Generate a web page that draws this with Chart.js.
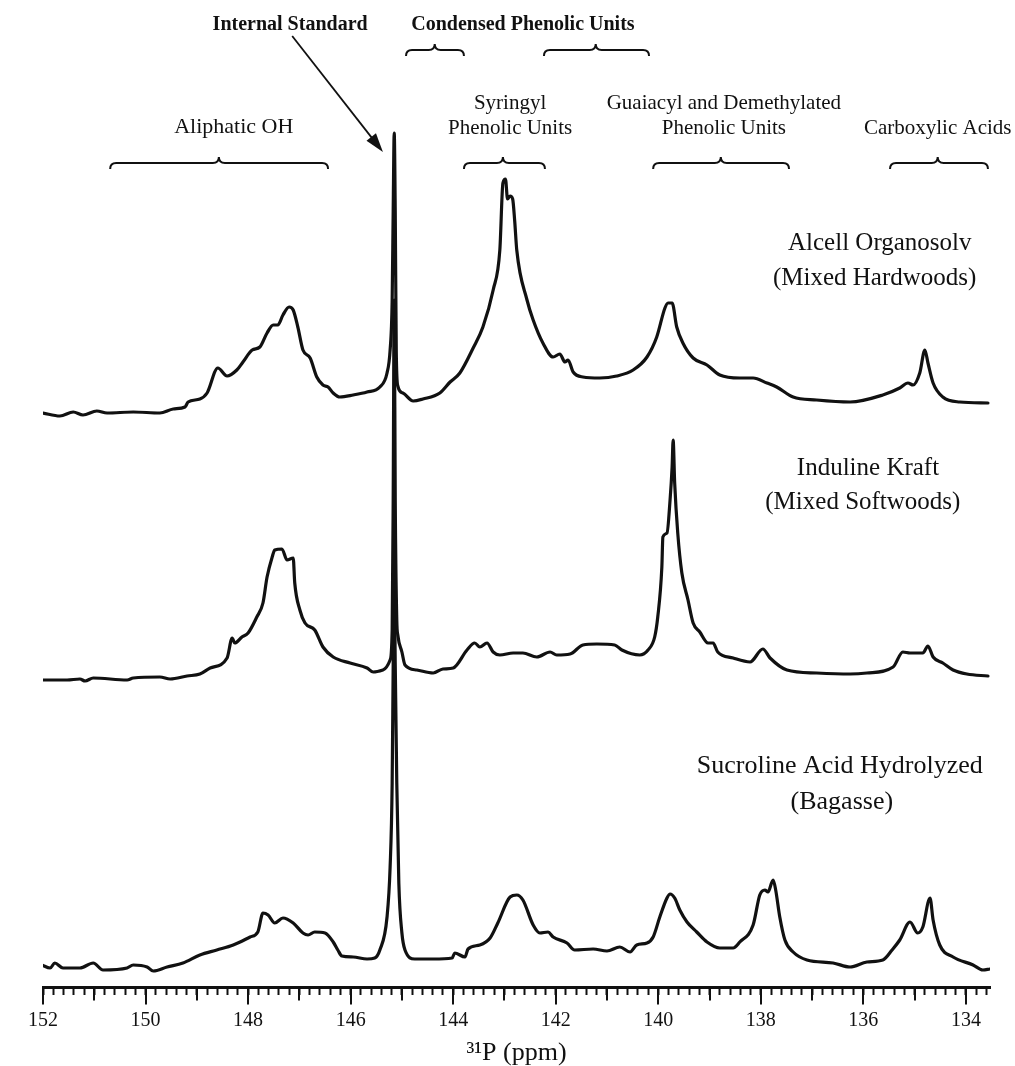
<!DOCTYPE html>
<html>
<head>
<meta charset="utf-8">
<script src="https://cdn.jsdelivr.net/npm/chart.js@4.4.1/dist/chart.umd.min.js"></script>
<style>
  html, body { margin: 0; padding: 0; background: #fff; }
  canvas { display: block; }
</style>
</head>
<body>
<canvas id="nmr" width="1015" height="1066"></canvas>
<script>
// 31P NMR spectra, ppm positions and intensities
const alcellPpm = [152.00, 151.67, 151.41, 151.22, 150.95, 150.75, 150.24, 149.72, 149.46, 149.23, 149.17, 148.94, 148.80, 148.59, 148.41, 148.22, 148.10, 147.92, 147.77, 147.63, 147.51, 147.42, 147.32, 147.20, 147.12, 147.03, 146.93, 146.79, 146.66, 146.54, 146.44, 146.34, 146.21, 145.95, 145.68, 145.43, 145.29, 145.23, 145.19, 145.17, 145.15, 145.13, 145.11, 145.08, 144.98, 144.78, 144.59, 144.26, 144.06, 143.87, 143.61, 143.42, 143.22, 143.09, 143.03, 142.98, 142.94, 142.89, 142.84, 142.80, 142.76, 142.56, 142.44, 142.25, 142.05, 141.92, 141.82, 141.76, 141.66, 141.47, 141.14, 140.81, 140.49, 140.22, 140.03, 139.87, 139.81, 139.73, 139.64, 139.52, 139.32, 139.05, 138.80, 138.41, 138.15, 137.88, 137.69, 137.37, 136.91, 136.26, 135.62, 135.29, 135.13, 135.03, 134.90, 134.80, 134.74, 134.64, 134.45, 134.12, 133.57];
const alcellInt = [-2, -5, -1, -4, 0, -2, -1, -2, 2, 4, 9, 12, 18, 43, 35, 41, 49, 61, 64, 78, 86, 86, 96, 104, 101, 84, 61, 53, 34, 26, 24, 18, 14, 16, 19, 24, 38, 61, 111, 200, 278, 200, 60, 25, 18, 10, 12, 18, 29, 38, 63, 84, 121, 161, 228, 232, 212, 215, 212, 190, 161, 111, 91, 68, 54, 57, 49, 51, 39, 34, 33, 35, 41, 54, 74, 103, 108, 108, 84, 68, 53, 46, 36, 33, 33, 28, 24, 14, 11, 9, 16, 23, 28, 26, 38, 61, 48, 28, 14, 9, 8];

const indulinePpm = [152.02, 151.53, 151.28, 151.18, 151.02, 150.36, 150.24, 149.72, 149.52, 149.19, 148.94, 148.74, 148.41, 148.31, 148.26, 148.12, 148.00, 147.83, 147.71, 147.63, 147.53, 147.48, 147.34, 147.24, 147.12, 147.09, 146.99, 146.89, 146.70, 146.54, 146.34, 146.01, 145.68, 145.56, 145.37, 145.23, 145.19, 145.17, 145.15, 145.13, 145.10, 145.08, 145.00, 144.94, 144.71, 144.39, 144.20, 144.00, 143.73, 143.58, 143.48, 143.34, 143.22, 143.09, 142.83, 142.64, 142.37, 142.11, 141.98, 141.72, 141.47, 141.20, 140.85, 140.71, 140.36, 140.20, 140.07, 140.01, 139.93, 139.91, 139.83, 139.77, 139.73, 139.71, 139.68, 139.62, 139.54, 139.42, 139.32, 139.19, 139.03, 138.93, 138.84, 138.54, 138.21, 137.96, 137.82, 137.49, 136.91, 136.26, 135.93, 135.42, 135.23, 135.09, 134.96, 134.84, 134.74, 134.64, 134.45, 134.25, 133.98, 133.57];
const indulineInt = [0, 0, 1, -1, 2, 0, 2, 3, 1, 4, 6, 12, 22, 42, 37, 43, 47, 63, 77, 103, 123, 130, 131, 120, 122, 97, 70, 57, 50, 33, 23, 17, 12, 8, 10, 20, 50, 180, 380, 180, 60, 45, 28, 15, 10, 7, 11, 12, 30, 37, 33, 37, 28, 25, 27, 27, 23, 28, 25, 26, 35, 36, 35, 30, 25, 30, 43, 63, 113, 143, 147, 180, 213, 240, 197, 147, 107, 80, 57, 48, 37, 37, 28, 22, 18, 31, 22, 10, 7, 6, 7, 13, 28, 27, 27, 27, 34, 23, 17, 10, 6, 4];

const sucrolinePpm = [152.02, 151.86, 151.77, 151.61, 151.28, 151.02, 150.83, 150.36, 150.24, 149.97, 149.85, 149.58, 149.27, 148.94, 148.61, 148.29, 147.96, 147.81, 147.71, 147.61, 147.48, 147.32, 147.12, 146.93, 146.83, 146.70, 146.50, 146.34, 146.25, 146.17, 145.95, 145.68, 145.53, 145.43, 145.29, 145.23, 145.19, 145.17, 145.15, 145.13, 145.10, 145.06, 145.00, 144.94, 144.75, 144.39, 144.02, 143.97, 143.77, 143.71, 143.48, 143.28, 143.13, 142.89, 142.76, 142.64, 142.44, 142.31, 142.15, 142.05, 141.78, 141.63, 141.27, 141.00, 140.75, 140.55, 140.42, 140.22, 140.10, 139.97, 139.83, 139.77, 139.68, 139.58, 139.44, 139.25, 139.05, 138.80, 138.54, 138.41, 138.15, 138.02, 137.92, 137.86, 137.76, 137.71, 137.63, 137.53, 137.37, 137.10, 136.59, 136.26, 135.93, 135.62, 135.44, 135.29, 135.09, 134.94, 134.84, 134.70, 134.64, 134.51, 134.25, 133.86, 133.67, 133.53];
const sucrolineInt = [0, -3, 2, -3, -3, 2, -5, -3, 0, -2, -6, -2, 2, 10, 15, 20, 28, 33, 52, 50, 42, 47, 42, 32, 30, 33, 32, 23, 15, 9, 8, 6, 7, 15, 48, 98, 182, 300, 405, 300, 182, 82, 32, 15, 6, 6, 7, 12, 8, 16, 20, 27, 42, 68, 70, 65, 40, 32, 33, 28, 22, 15, 16, 14, 18, 13, 20, 22, 28, 48, 67, 71, 67, 55, 43, 33, 23, 17, 17, 23, 40, 70, 75, 73, 85, 75, 48, 25, 13, 5, 2, -2, 3, 5, 15, 25, 43, 32, 38, 67, 45, 20, 8, 0, -5, -4];

// vertical offsets that stack the three spectra
const traceOffsets = [576, 307, 22];
const traceNames = ['Alcell Organosolv', 'Induline Kraft', 'Sucroline Acid Hydrolyzed'];

// axis
const ppmMin = 133.53;
const ppmMax = 152;
const tickLabels = ['152', '150', '148', '146', '144', '142', '140', '138', '136', '134'];

function series(ppm, vals, off) {
  return ppm.map((p, i) => ({ x: p, y: vals[i] + off }));
}

const serif = '"Liberation Serif", "DejaVu Serif", serif';

// annotations: x in ppm, y in pixels
const texts = [
  { t: 'Internal Standard', x: 147.18, y: 25, f: 'bold 20px ' + serif },
  { t: 'Condensed Phenolic Units', x: 142.64, y: 25, f: 'bold 20px ' + serif },
  { t: 'Aliphatic OH', x: 148.28, y: 127, f: '22px ' + serif },
  { t: 'Syringyl', x: 142.89, y: 103, f: '21px ' + serif },
  { t: 'Phenolic Units', x: 142.89, y: 128, f: '21px ' + serif },
  { t: 'Guaiacyl and Demethylated', x: 138.72, y: 103, f: '21px ' + serif },
  { t: 'Phenolic Units', x: 138.72, y: 128, f: '21px ' + serif },
  { t: 'Carboxylic Acids', x: 134.55, y: 128, f: '21px ' + serif },
  { t: 'Alcell Organosolv', x: 135.68, y: 243, f: '25px ' + serif },
  { t: '(Mixed Hardwoods)', x: 135.78, y: 278, f: '25px ' + serif },
  { t: 'Induline Kraft', x: 135.91, y: 468, f: '25px ' + serif },
  { t: '(Mixed Softwoods)', x: 136.01, y: 502, f: '25px ' + serif },
  { t: 'Sucroline Acid Hydrolyzed', x: 136.46, y: 766, f: '26px ' + serif },
  { t: '(Bagasse)', x: 136.42, y: 802, f: '26px ' + serif }
];
const braces = [
  [150.69, 146.44, 148.57, 163],
  [143.79, 142.21, 143.03, 163],
  [140.10, 137.45, 138.78, 163],
  [135.48, 133.57, 134.55, 163],
  [144.92, 143.79, 144.36, 50],
  [142.23, 140.18, 141.22, 50]
];

const annotate = {
  id: 'annotate',
  afterDraw(chart) {
    const ctx = chart.ctx;
    const xs = chart.scales.x;
    const px = v => xs.getPixelForValue(v);
    ctx.save();
    ctx.fillStyle = '#111';
    ctx.strokeStyle = '#111';

    // extra length on the 1 and 2 ppm ticks
    const y0 = xs.top + 1.5;
    ctx.lineWidth = 2;
    for (let k = 134; k <= 152; k++) {
      const x = Math.round(px(k));
      const len = k % 2 === 0 ? 16 : 12;
      ctx.beginPath();
      ctx.moveTo(x, y0);
      ctx.lineTo(x, y0 + len);
      ctx.stroke();
    }

    ctx.textAlign = 'center';
    ctx.textBaseline = 'middle';
    texts.forEach(a => {
      ctx.font = a.f;
      ctx.fillText(a.t, px(a.x), a.y);
    });

    ctx.lineWidth = 2;
    braces.forEach(b => {
      const a = Math.min(px(b[0]), px(b[1]));
      const e = Math.max(px(b[0]), px(b[1]));
      const m = px(b[2]);
      const y = b[3];
      const r = 6;
      ctx.beginPath();
      ctx.moveTo(a, y + r);
      ctx.quadraticCurveTo(a, y, a + r, y);
      ctx.lineTo(m - r, y);
      ctx.quadraticCurveTo(m, y, m, y - r);
      ctx.quadraticCurveTo(m, y, m + r, y);
      ctx.lineTo(e - r, y);
      ctx.quadraticCurveTo(e, y, e, y + r);
      ctx.stroke();
    });

    // arrow to the internal standard
    const ax0 = px(147.14), ay0 = 36;
    const ax1 = px(145.37), ay1 = 152;
    const ang = Math.atan2(ay1 - ay0, ax1 - ax0);
    ctx.lineWidth = 1.8;
    ctx.beginPath();
    ctx.moveTo(ax0, ay0);
    ctx.lineTo(ax1 - 10 * Math.cos(ang), ay1 - 10 * Math.sin(ang));
    ctx.stroke();
    ctx.beginPath();
    ctx.moveTo(ax1, ay1);
    ctx.lineTo(ax1 - 19 * Math.cos(ang) + 6 * Math.sin(ang), ay1 - 19 * Math.sin(ang) - 6 * Math.cos(ang));
    ctx.lineTo(ax1 - 19 * Math.cos(ang) - 6 * Math.sin(ang), ay1 - 19 * Math.sin(ang) + 6 * Math.cos(ang));
    ctx.closePath();
    ctx.fill();
    ctx.restore();
  }
};

const lineStyle = {
  borderColor: '#111',
  borderWidth: 3.2,
  pointRadius: 0,
  cubicInterpolationMode: 'monotone',
  fill: false,
  borderJoinStyle: 'round',
  borderCapStyle: 'round'
};

new Chart(document.getElementById('nmr'), {
  type: 'line',
  data: {
    datasets: [
      { label: traceNames[0], data: series(alcellPpm, alcellInt, traceOffsets[0]), ...lineStyle },
      { label: traceNames[1], data: series(indulinePpm, indulineInt, traceOffsets[1]), ...lineStyle },
      { label: traceNames[2], data: series(sucrolinePpm, sucrolineInt, traceOffsets[2]), ...lineStyle }
    ]
  },
  options: {
    responsive: false,
    animation: false,
    devicePixelRatio: 1,
    layout: { padding: { left: 43, right: 25, top: 0, bottom: 0 } },
    plugins: { legend: { display: false }, tooltip: { enabled: false } },
    scales: {
      x: {
        type: 'linear',
        reverse: true,
        min: ppmMin,
        max: ppmMax,
        afterBuildTicks(scale) {
          const t = [];
          for (let i = 668; i <= 760; i++) t.push({ value: i / 5 });
          scale.ticks = t;
        },
        afterFit(scale) { scale.height = 79; },
        border: { display: true, width: 3, color: '#111' },
        grid: { drawOnChartArea: false, drawTicks: true, tickLength: 8, tickWidth: 2, tickColor: '#111' },
        ticks: {
          autoSkip: false,
          maxRotation: 0,
          padding: 14,
          color: '#111',
          font: { family: serif, size: 20 },
          callback(v) {
            const s = String(Math.round(v * 10) / 10);
            return tickLabels.includes(s) ? s : '';
          }
        },
        title: {
          display: true,
          text: '\u00B3\u00B9P (ppm)',
          color: '#111',
          font: { family: serif, size: 26, lineHeight: 1 },
          padding: { top: 0, bottom: 0 }
        }
      },
      y: { display: false, min: 0, max: 987 }
    }
  },
  plugins: [annotate]
});
</script>
</body>
</html>
